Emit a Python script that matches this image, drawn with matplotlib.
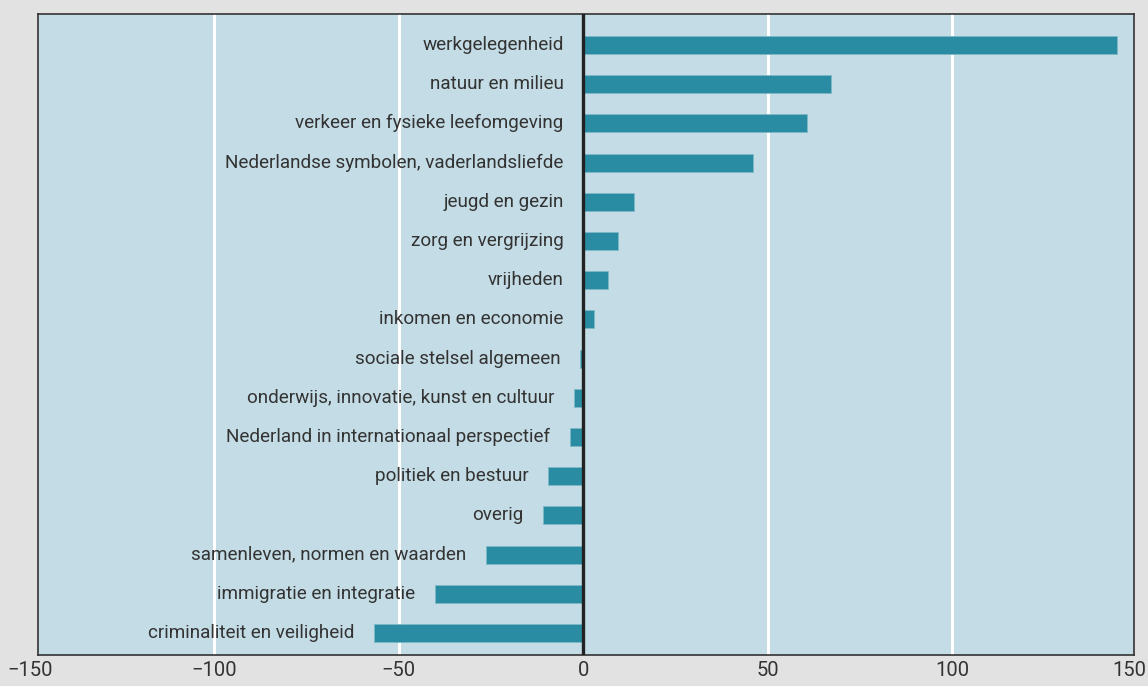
import matplotlib.pyplot as plt

categories = [
    "werkgelegenheid",
    "natuur en milieu",
    "verkeer en fysieke leefomgeving",
    "Nederlandse symbolen, vaderlandsliefde",
    "jeugd en gezin",
    "zorg en vergrijzing",
    "vrijheden",
    "inkomen en economie",
    "sociale stelsel algemeen",
    "onderwijs, innovatie, kunst en cultuur",
    "Nederland in internationaal perspectief",
    "politiek en bestuur",
    "overig",
    "samenleven, normen en waarden",
    "immigratie en integratie",
    "criminaliteit en veiligheid",
]
values = [144.6, 67.2, 60.7, 46.0, 13.8, 9.5, 6.7, 3.0,
          -0.9, -2.4, -3.6, -9.6, -10.8, -26.3, -40.3, -56.7]
xticks = [-150, -100, -50, 0, 50, 100, 150]

bg = '#e1e2e1'
panel = '#c4dce5'
bar_color = '#2a8ca3'
text_color = '#333333'

plt.rcParams['font.family'] = ['Roboto', 'DejaVu Sans']

fig = plt.figure(figsize=(11.48, 6.86), dpi=100, facecolor=bg)
ax = fig.add_axes([38 / 1148, 1 - 655 / 686, (1134 - 38) / 1148, (655 - 14) / 686])
ax.set_facecolor(panel)

ypos = list(range(len(categories)))
ax.barh(ypos, values, height=0.46, color=bar_color, edgecolor='#7fb8c6',
        linewidth=0.6, zorder=3)

for x in [-100, -50, 50, 100]:
    ax.axvline(x, color='white', linewidth=2.2, zorder=1)
ax.axvline(0, color='#222222', linewidth=2.4, zorder=4)

for y, (cat, v) in enumerate(zip(categories, values)):
    ax.text(min(v, 0) - 5.3, y, cat, ha='right', va='center',
            fontsize=13.6, color=text_color, zorder=5)

ax.set_xlim(-147.8, 149.3)
ax.set_ylim(len(categories) - 1 + 0.56, -0.79)
ax.set_yticks([])
ax.set_xticks([])
for s in ax.spines.values():
    s.set_color('#333333')
    s.set_linewidth(1.2)

# tick labels drawn as text so the outer labels can sit past the axis limits
for t in xticks:
    label = '\u2212' + str(-t) if t < 0 else str(t)
    ha = 'center'
    xt = t
    if t == xticks[-1]:
        ha = 'right'
        xt = t + 2.7
    ax.text(xt, -15 / 641, label, transform=ax.get_xaxis_transform(),
            ha=ha, va='center', fontsize=14.5, color=text_color, clip_on=False)

fig.savefig('out.png', dpi=100, facecolor=bg)
